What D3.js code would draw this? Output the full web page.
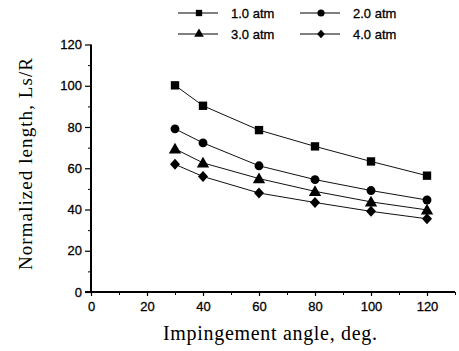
<!DOCTYPE html>
<html>
<head>
<meta charset="utf-8">
<script src="https://cdn.jsdelivr.net/npm/d3@7"></script>
<style>
  body { margin: 0; background: #fff; }
  svg { display: block; }
  .tick text { font-family: "Liberation Sans", Arial, sans-serif; font-size: 13px; fill: #000; stroke: #000; stroke-width: 0.3px; }
  .axis-title { font-family: "Liberation Serif", "Times New Roman", serif; fill: #000; }
  .legend text { font-family: "Liberation Sans", Arial, sans-serif; font-size: 13px; fill: #000; stroke: #000; stroke-width: 0.3px; }
</style>
</head>
<body>
<script>
const angles = [30, 40, 60, 80, 100, 120];
const seriesNames = ["1.0 atm", "2.0 atm", "3.0 atm", "4.0 atm"];
const atm1 = [100.2, 90.3, 78.5, 70.6, 63.3, 56.4];
const atm2 = [79.1, 72.3, 61.2, 54.5, 49.2, 44.6];
const atm3 = [69.4, 62.6, 55.0, 48.8, 43.7, 39.8];
const atm4 = [61.9, 56.0, 48.0, 43.4, 39.1, 35.5];
const xTicks = [0, 20, 40, 60, 80, 100, 120];
const yTicks = [0, 20, 40, 60, 80, 100, 120];

const W = 459, H = 351;
const svg = d3.select("body").append("svg").attr("width", W).attr("height", H);

const x = d3.scaleLinear().domain([0, 130]).range([91, 455]);
const y = d3.scaleLinear().domain([0, 120]).range([292, 44.5]);

// wide diamond like the original
const wideDiamond = {
  draw(ctx, size) {
    const r = Math.sqrt(size) / 2;
    ctx.moveTo(0, -r * 1.1);
    ctx.lineTo(r, 0);
    ctx.lineTo(0, r * 1.1);
    ctx.lineTo(-r, 0);
    ctx.closePath();
  }
};
const symbols = [d3.symbolSquare, d3.symbolCircle, d3.symbolTriangle, wideDiamond];
const symSizes = [70, 62, 66, 100];
const legSizes = [40, 40, 40, 60];
const allSeries = [atm1, atm2, atm3, atm4];

// y axis
const yAxis = svg.append("g").attr("transform", `translate(${x(0)},0)`)
  .call(d3.axisLeft(y).tickValues(yTicks).tickSize(6).tickPadding(3));
yAxis.select(".domain").attr("stroke-width", 2).attr("d", `M0,${y(0)}V${y(120)}`);
yAxis.selectAll(".tick line").attr("stroke-width", 1.2);
svg.append("g").attr("transform", `translate(${x(0)},0)`)
  .call(d3.axisLeft(y).tickValues(d3.range(10, 120, 20)).tickSize(3).tickFormat(""))
  .call(g => g.select(".domain").remove());

// x axis
const xAxis = svg.append("g").attr("transform", `translate(0,${y(0)})`)
  .call(d3.axisBottom(x).tickValues(xTicks).tickSize(4).tickPadding(6));
xAxis.select(".domain").attr("stroke-width", 2).attr("d", `M${x(0) - 6},0H${x(130)}`);
xAxis.selectAll(".tick line").attr("stroke-width", 1.2);
svg.append("g").attr("transform", `translate(0,${y(0)})`)
  .call(d3.axisBottom(x).tickValues(d3.range(10, 131, 20)).tickSize(3).tickFormat(""))
  .call(g => g.select(".domain").remove());

// titles
svg.append("text").attr("class", "axis-title")
  .attr("x", 270).attr("y", 340).attr("text-anchor", "middle")
  .style("font-size", "20px").attr("textLength", 214)
  .text("Impingement angle, deg.");
svg.append("text").attr("class", "axis-title")
  .attr("transform", "translate(32,164) rotate(-90)").attr("text-anchor", "middle")
  .style("font-size", "19px").attr("textLength", 212)
  .text("Normalized length, Ls/R");

// lines and markers
const line = d3.line().x((d, i) => x(angles[i])).y(d => y(d));
allSeries.forEach((vals, s) => {
  svg.append("path").attr("d", line(vals)).attr("fill", "none")
    .attr("stroke", "#111").attr("stroke-width", 1);
  svg.selectAll(null).data(vals).enter().append("path")
    .attr("d", d3.symbol().type(symbols[s]).size(symSizes[s]))
    .attr("transform", (d, i) => `translate(${x(angles[i])},${y(d) + (s === 2 ? 1 : 0)})`)
    .attr("fill", "#000");
});

// legend
const legPos = [[178, 13], [300, 13], [178, 34], [300, 34]];
const legend = svg.append("g").attr("class", "legend");
seriesNames.forEach((name, s) => {
  const [lx, ly] = legPos[s];
  legend.append("line").attr("x1", lx).attr("x2", lx + 40).attr("y1", ly).attr("y2", ly)
    .attr("stroke", "#000").attr("stroke-width", 1);
  legend.append("path").attr("d", d3.symbol().type(symbols[s]).size(legSizes[s]))
    .attr("transform", `translate(${lx + 21},${ly})`).attr("fill", "#000");
  legend.append("text").attr("x", lx + 53).attr("y", ly + 5).text(name);
});
</script>
</body>
</html>
